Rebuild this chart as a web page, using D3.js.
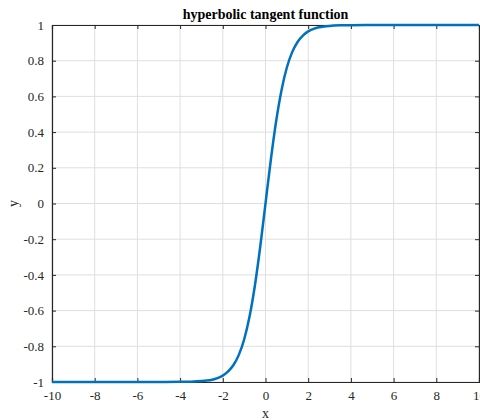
<!DOCTYPE html>
<html><head><meta charset="utf-8">
<script src="https://cdn.jsdelivr.net/npm/d3@7"></script>
<style>body{margin:0;background:#fff}svg{display:block}text{font-family:"Liberation Serif","Times New Roman",serif}</style>
</head><body>
<svg id="c" width="480" height="420"></svg>
<script>
const xValues = [-10,-8,-6,-5,-4,-3.5,-3,-2.75,-2.5,-2.25,-2,-1.75,-1.5,-1.25,-1,-0.75,-0.5,-0.25,0,0.25,0.5,0.75,1,1.25,1.5,1.75,2,2.25,2.5,2.75,3,3.5,4,5,6,8,10];
const yValues = [-1,-1,-1,-1,-0.999,-0.998,-0.995,-0.992,-0.987,-0.978,-0.964,-0.941,-0.905,-0.848,-0.762,-0.635,-0.462,-0.245,0,0.245,0.462,0.635,0.762,0.848,0.905,0.941,0.964,0.978,0.987,0.992,0.995,0.998,0.999,1,1,1,1];
const xTicks = [-10,-8,-6,-4,-2,0,2,4,6,8,10];
const yTicks = [-1,-0.8,-0.6,-0.4,-0.2,0,0.2,0.4,0.6,0.8,1];
const titleText = "hyperbolic tangent function";

const svg = d3.select("#c");
const L=52, R=479, T=25, B=382;
const x = d3.scaleLinear().domain([-10,10]).range([L,R]);
const y = d3.scaleLinear().domain([-1,1]).range([B,T]);
const axisCol="#262626";
const serif = '"Liberation Serif","Times New Roman",serif';

// grid
svg.append("g").selectAll("line").data(xTicks).join("line")
  .attr("x1",d=>x(d)).attr("x2",d=>x(d)).attr("y1",T).attr("y2",B)
  .attr("stroke","#dfdfdf").attr("stroke-width",1);
svg.append("g").selectAll("line").data(yTicks).join("line")
  .attr("y1",d=>y(d)).attr("y2",d=>y(d)).attr("x1",L).attr("x2",R)
  .attr("stroke","#dfdfdf").attr("stroke-width",1);

const fmt = d=>String(+d.toFixed(1));
// axes
const ax = (g)=>{g.attr("font-family",serif).attr("font-size",13);
  g.selectAll("text").attr("fill",axisCol).style("font-family",serif);g.selectAll("line,path").attr("stroke",axisCol);};
svg.append("g").attr("transform",`translate(0,${B})`)
  .call(d3.axisBottom(x).tickValues(xTicks).tickSize(-4).tickPadding(9).tickFormat(fmt)).call(ax);
svg.append("g").attr("transform",`translate(0,${T})`)
  .call(d3.axisTop(x).tickValues(xTicks).tickSize(-4).tickFormat("")).call(ax);
svg.append("g").attr("transform",`translate(${L},0)`)
  .call(d3.axisLeft(y).tickValues(yTicks).tickSize(-4).tickPadding(8).tickFormat(fmt)).call(ax);
svg.append("g").attr("transform",`translate(${R},0)`)
  .call(d3.axisRight(y).tickValues(yTicks).tickSize(-4).tickFormat("")).call(ax);
svg.selectAll(".domain").attr("stroke-width",1.2);

// line
const pts = xValues.map((v,i)=>[v,yValues[i]]);
svg.append("path").datum(pts)
  .attr("d",d3.line().x(d=>x(d[0])).y(d=>y(d[1])).curve(d3.curveMonotoneX))
  .attr("fill","none").attr("stroke","#0072BD").attr("stroke-width",2.5);

svg.append("text").attr("x",(L+R)/2).attr("y",19).attr("text-anchor","middle")
  .style("font-size","14px").style("font-weight","bold").attr("fill","#000").text(titleText);
svg.append("text").attr("x",(L+R)/2).attr("y",418).attr("text-anchor","middle")
  .style("font-size","14px").attr("fill",axisCol).text("x");
svg.append("text").attr("transform",`translate(18,${(T+B)/2}) rotate(-90)`).attr("text-anchor","middle")
  .style("font-size","14px").attr("fill",axisCol).text("y");
</script>
</body></html>
